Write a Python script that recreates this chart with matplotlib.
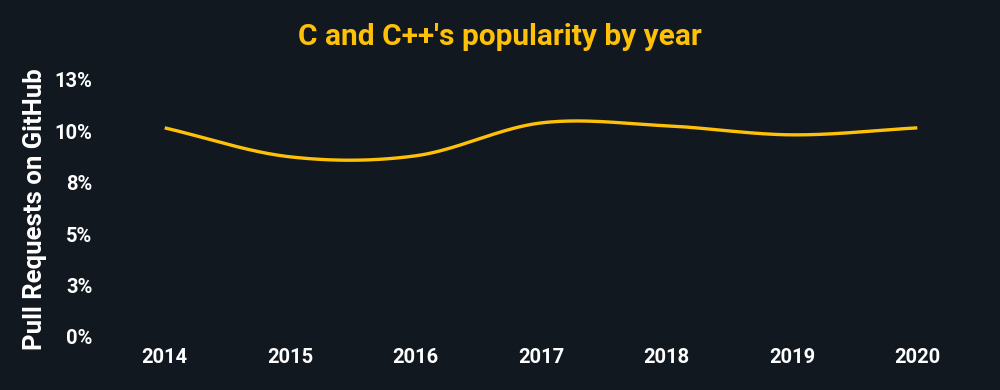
"""C and C++ popularity by year (share of pull requests on GitHub)."""

import matplotlib

matplotlib.use("Agg")
import matplotlib.pyplot as plt
import numpy as np

years = ["2014", "2015", "2016", "2017", "2018", "2019", "2020"]
share_pct = [10.17, 8.76, 8.81, 10.41, 10.27, 9.83, 10.17]
y_ticks = [0, 2.5, 5, 7.5, 10, 12.5]
y_tick_labels = ["0%", "3%", "5%", "8%", "10%", "13%"]

BG = "#111820"
GOLD = "#ffc107"


def catmull_rom(x, y, n=40):
    """Smooth curve through the points (cardinal spline, tension 0.5)."""
    x = np.asarray(x, float)
    y = np.asarray(y, float)
    m = np.gradient(y, x)
    # Catmull-Rom tangents; ends use one-sided differences
    m[1:-1] = (y[2:] - y[:-2]) / (x[2:] - x[:-2])
    xs, ys = [], []
    for i in range(len(x) - 1):
        t = np.linspace(0, 1, n, endpoint=False)
        h = x[i + 1] - x[i]
        h00 = 2 * t**3 - 3 * t**2 + 1
        h10 = t**3 - 2 * t**2 + t
        h01 = -2 * t**3 + 3 * t**2
        h11 = t**3 - t**2
        xs.append(x[i] + t * h)
        ys.append(h00 * y[i] + h10 * h * m[i] + h01 * y[i + 1] + h11 * h * m[i + 1])
    xs.append([x[-1]])
    ys.append([y[-1]])
    return np.concatenate(xs), np.concatenate(ys)


plt.rcParams["font.family"] = ["Roboto", "DejaVu Sans"]

fig = plt.figure(figsize=(10, 3.9), dpi=100, facecolor=BG)
ax = fig.add_axes([0.102, 0.136, 0.878, 0.659], facecolor=BG)

pos = np.arange(len(years))
sx, sy = catmull_rom(pos, share_pct)
ax.plot(sx, sy, color=GOLD, lw=2.4, solid_capstyle="butt")

ax.set_xlim(-0.5, len(years) - 0.5)
ax.set_ylim(0, 12.5)
ax.set_xticks(pos)
ax.set_xticklabels(years)
ax.set_yticks(y_ticks)
ax.set_yticklabels(y_tick_labels)
ax.tick_params(colors="white", length=0, labelsize=14.5)
ax.tick_params(axis="x", pad=8)
ax.tick_params(axis="y", pad=7)
for lab in ax.get_xticklabels() + ax.get_yticklabels():
    lab.set_fontweight("bold")
for s in ax.spines.values():
    s.set_visible(False)

fig.text(0.035, 0.465, "Pull Requests on GitHub", rotation=90, color="white",
         fontsize=18.5, fontweight="bold", ha="center", va="center")
fig.text(0.5, 0.905, "C and C++'s popularity by year", color=GOLD,
         fontsize=21.5, fontweight="bold", ha="center", va="center")

fig.savefig("out.png", dpi=100, facecolor=BG)
